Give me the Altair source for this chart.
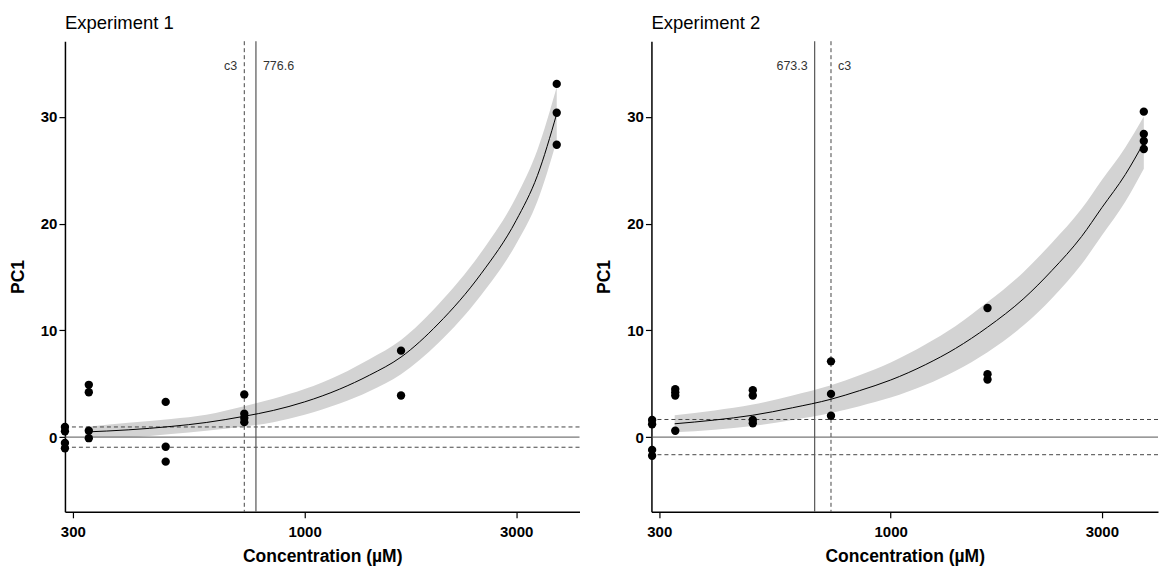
import altair as alt
import pandas as pd

FONT = "Liberation Sans"
NARROW = "'Liberation Sans Narrow', 'Liberation Sans', sans-serif"

# ---------- axis ticks ----------
x_ticks = [300, 1000, 3000]
y_ticks = [0, 10, 20, 30]

# ---------- Experiment 1 ----------
e1_conc = [288, 288, 288, 288, 326, 326, 326, 326, 486, 486, 486,
           731, 731, 731, 731, 1650, 1650, 3704, 3704, 3704]
e1_pc1 = [0.95, 0.55, -0.55, -1.05, 4.9, 4.2, 0.6, -0.1, 3.3, -0.9, -2.3,
          4.0, 2.2, 1.8, 1.4, 8.1, 3.9, 33.1, 30.4, 27.4]
e1_fit_x = [320, 400, 500, 600, 730, 850, 1000, 1200, 1400, 1650, 2000, 2500, 3000, 3350, 3704]
e1_fit_y = [0.48, 0.68, 1.0, 1.37, 1.95, 2.5, 3.3, 4.5, 5.8, 7.5, 10.6, 15.3, 20.3, 24.5, 30.3]
e1_fit_lo = [0.0, 0.0, 0.3, 0.6, 1.0, 1.4, 2.1, 3.15, 4.3, 5.9, 8.8, 13.3, 18.1, 22.1, 27.8]
e1_fit_hi = [0.95, 1.35, 1.7, 2.1, 2.9, 3.6, 4.5, 5.85, 7.3, 9.1, 12.4, 17.3, 22.5, 26.9, 32.8]
e1_c3 = 731
e1_ec = 776.6
e1_thr = 0.95

# ---------- Experiment 2 ----------
e2_conc = [289, 289, 289, 289, 326, 326, 326, 326, 488, 488, 488, 488,
           733, 733, 733, 1655, 1655, 1655, 3732, 3732, 3732, 3732]
e2_pc1 = [1.6, 1.2, -1.2, -1.75, 4.5, 4.2, 3.9, 0.6, 4.4, 3.9, 1.6, 1.3,
          7.1, 4.05, 2.0, 12.1, 5.9, 5.4, 30.5, 28.4, 27.75, 27.0]
e2_fit_x = [325, 400, 488, 600, 733, 850, 1000, 1200, 1400, 1655, 2000, 2312, 2700, 3000, 3389, 3732]
e2_fit_y = [1.25, 1.6, 2.05, 2.75, 3.55, 4.35, 5.35, 6.8, 8.3, 10.3, 13.0, 15.6, 18.8, 21.5, 24.6, 27.6]
e2_fit_lo = [0.45, 0.7, 1.05, 1.6, 2.25, 2.9, 3.7, 4.9, 6.2, 7.95, 10.5, 13.0, 16.2, 18.9, 22.05, 25.15]
e2_fit_hi = [2.05, 2.5, 3.05, 3.9, 4.85, 5.8, 7.0, 8.7, 10.4, 12.65, 15.5, 18.2, 21.4, 24.1, 27.15, 30.05]
e2_c3 = 733
e2_ec = 673.3
e2_thr = 1.65

Y_DOMAIN = [-7, 37.1]
LABEL_Y = 34.8


def panel(title, conc, pc1, fx, fy, flo, fhi, c3, ec, thr, ec_right, xmax, width):
    xscale = alt.Scale(type="log", domain=[288, xmax], nice=False)
    yscale = alt.Scale(domain=Y_DOMAIN, nice=False, zero=False)
    xaxis = alt.Axis(values=x_ticks, format="d", title="Concentration (µM)",
                     grid=False, labelPadding=7, titlePadding=8)
    yaxis = alt.Axis(values=y_ticks, title="PC1", grid=False,
                     labelPadding=2, titlePadding=13)

    pts = pd.DataFrame({"conc": conc, "pc1": pc1})
    fit = pd.DataFrame({"conc": fx, "pc1": fy, "lo": flo, "hi": fhi})

    band = alt.Chart(fit).mark_area(color="#D3D3D3", opacity=1, interpolate="monotone").encode(
        x=alt.X("conc:Q", scale=xscale, axis=xaxis),
        y=alt.Y("lo:Q", scale=yscale, axis=yaxis),
        y2="hi:Q",
    )
    h0 = alt.Chart(pd.DataFrame({"pc1": [0]})).mark_rule(color="#555555", strokeWidth=1).encode(
        y="pc1:Q")
    hd = alt.Chart(pd.DataFrame({"pc1": [thr, -thr]})).mark_rule(
        color="#444444", strokeWidth=1, strokeDash=[4, 3]).encode(y="pc1:Q")
    vs = alt.Chart(pd.DataFrame({"conc": [ec]})).mark_rule(
        color="#555555", strokeWidth=1.2).encode(x="conc:Q")
    vd = alt.Chart(pd.DataFrame({"conc": [c3]})).mark_rule(
        color="#444444", strokeWidth=1, strokeDash=[4, 3]).encode(x="conc:Q")
    line = alt.Chart(fit).mark_line(color="black", strokeWidth=1, interpolate="monotone").encode(
        x="conc:Q", y="pc1:Q")
    dots = alt.Chart(pts).mark_circle(size=70, color="black", opacity=1).encode(
        x="conc:Q", y="pc1:Q")

    if ec_right:
        left_lab = pd.DataFrame({"conc": [c3], "pc1": [LABEL_Y], "t": ["c3"]})
        right_lab = pd.DataFrame({"conc": [ec], "pc1": [LABEL_Y], "t": [f"{ec:.1f}"]})
    else:
        left_lab = pd.DataFrame({"conc": [ec], "pc1": [LABEL_Y], "t": [f"{ec:.1f}"]})
        right_lab = pd.DataFrame({"conc": [c3], "pc1": [LABEL_Y], "t": ["c3"]})
    tl = alt.Chart(left_lab).mark_text(align="right", dx=-7, fontSize=12.5, font=NARROW,
                                       color="#333333").encode(x="conc:Q", y="pc1:Q", text="t:N")
    tr = alt.Chart(right_lab).mark_text(align="left", dx=7, fontSize=12.5, font=NARROW,
                                        color="#333333").encode(x="conc:Q", y="pc1:Q", text="t:N")

    return alt.layer(band, h0, hd, vs, vd, line, dots, tl, tr).properties(
        width=width, height=471,
        title=alt.TitleParams(title, anchor="start", frame="group", offset=8),
    )


p1 = panel("Experiment 1", e1_conc, e1_pc1, e1_fit_x, e1_fit_y, e1_fit_lo, e1_fit_hi,
           e1_c3, e1_ec, e1_thr, True, 4169, 515)
p2 = panel("Experiment 2", e2_conc, e2_pc1, e2_fit_x, e2_fit_y, e2_fit_lo, e2_fit_hi,
           e2_c3, e2_ec, e2_thr, False, 4018, 507)

chart = alt.hconcat(p1, p2, spacing=15).properties(
    padding={"left": 9, "top": 13, "right": 0, "bottom": 0}
).configure_view(stroke=None).configure_axis(
    domainColor="black", domainWidth=1.5, tickColor="black", tickWidth=1.2, tickSize=6,
    labelFont=FONT, labelFontWeight="bold", labelFontSize=15, labelColor="black",
    titleFont=FONT, titleFontWeight="bold", titleFontSize=17.5, titleColor="black",
).configure_title(
    font=FONT, fontSize=18.5, fontWeight="normal", color="black", anchor="start",
)

chart.save("out.html", embed_options={"renderer": "svg", "actions": False})
